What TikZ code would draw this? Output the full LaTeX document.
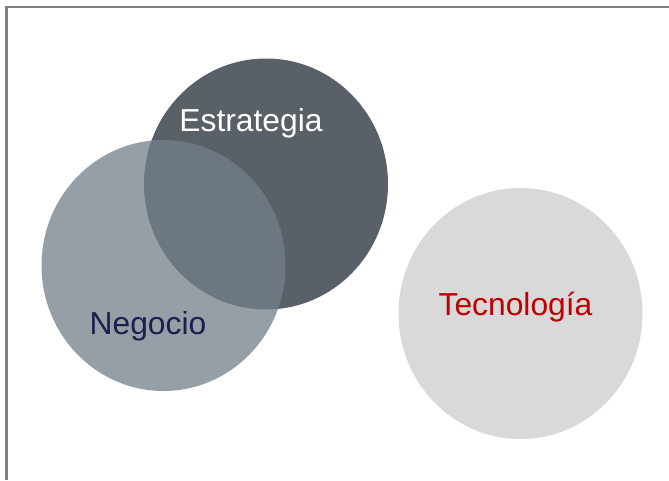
\documentclass[tikz,border=0pt]{standalone}
\usepackage{fontspec}
\setmainfont{Liberation Sans}
\usetikzlibrary{shapes.geometric}
\definecolor{darkc}{RGB}{90,96,104}
\definecolor{negc}{RGB}{116,128,136}
\definecolor{tecc}{RGB}{217,217,217}
\definecolor{navy}{RGB}{32,28,80}
\definecolor{redc}{RGB}{192,0,0}
\definecolor{framec}{RGB}{128,128,128}
\tikzset{
  blob/.style={ellipse, draw=none, inner sep=0pt, minimum width=244pt, minimum height=251pt},
  lbl/.style={font=\fontsize{31.8}{38}\selectfont, inner sep=0pt}
}
\begin{document}
\begin{tikzpicture}[x=1pt,y=-1pt]
\useasboundingbox (0,0) rectangle (669,480);
\fill[white] (0,0) rectangle (669,480);
\draw[framec, line width=2.5pt] (6.5,480) -- (6.5,7) -- (669,7);
\node[blob, fill=darkc] (estr) at (266,184) {};
\node[blob, fill=negc, fill opacity=0.75] (neg) at (163.5,265.5) {};
\node[blob, fill=tecc] (tec) at (520.5,313.5) {};
\node[lbl, white] (testr) at (251,123) {Estrategia};
\node[lbl, navy] (tneg) at (148,326) {Negocio};
\node[lbl, redc] (ttec) at (515.5,307) {Tecnología};
\end{tikzpicture}
\end{document}
